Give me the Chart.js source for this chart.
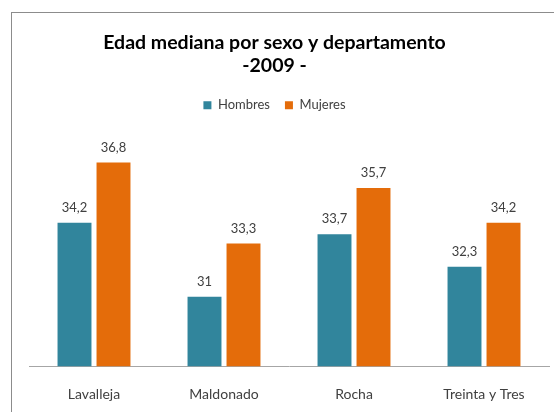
<!DOCTYPE html>
<html>
<head>
<meta charset="utf-8">
<script src="https://cdn.jsdelivr.net/npm/chart.js@4"></script>
<style>
  html, body { margin: 0; padding: 0; background: #fff; overflow: hidden; }
  #wrap { position: relative; width: 554px; height: 412px; }
  canvas { display: block; }
  #frame {
    position: absolute; left: 11px; top: 12px; width: 600px; height: 450px;
    border: 1px solid #8c8c8c; pointer-events: none;
  }
</style>
</head>
<body>
<div id="wrap">
  <canvas id="chart" width="554" height="412"></canvas>
  <div id="frame"></div>
</div>
<script>
// -------------------- Data --------------------
const departamentos = ['Lavalleja', 'Maldonado', 'Rocha', 'Treinta y Tres'];
const hombres = [34.2, 31, 33.7, 32.3];
const mujeres = [36.8, 33.3, 35.7, 34.2];
const titleLines = ['Edad mediana por sexo y departamento', '-2009 -'];

const fontFamily = 'Lato, "Open Sans", sans-serif';

// Excel style value labels above each bar (comma decimal)
const valueLabels = {
  id: 'valueLabels',
  afterDatasetsDraw(chart) {
    const ctx = chart.ctx;
    ctx.save();
    ctx.font = '13px ' + fontFamily;
    ctx.fillStyle = '#404040';
    ctx.textAlign = 'center';
    ctx.textBaseline = 'middle';
    chart.data.datasets.forEach((ds, i) => {
      chart.getDatasetMeta(i).data.forEach((bar, j) => {
        const txt = String(ds.data[j]).replace('.', ',');
        ctx.fillText(txt, bar.x, bar.y - 15);
      });
    });
    ctx.restore();
  }
};

// extra room under the legend
const legendGap = {
  id: 'legendGap',
  beforeInit(chart) {
    const fit = chart.legend.fit;
    chart.legend.fit = function () {
      fit.bind(chart.legend)();
      this.height += 13;
    };
  }
};

const ctx = document.getElementById('chart').getContext('2d');
new Chart(ctx, {
  type: 'bar',
  data: {
    labels: departamentos,
    datasets: [
      { label: 'Hombres', data: hombres, backgroundColor: '#31859C' },
      { label: 'Mujeres', data: mujeres, backgroundColor: '#E46C0A' }
    ]
  },
  options: {
    responsive: false,
    animation: false,
    layout: { padding: { left: 0, right: 5, top: 0, bottom: -11 } },
    datasets: { bar: { categoryPercentage: 0.6, barPercentage: 0.87 } },
    plugins: {
      tooltip: { enabled: false },
      title: {
        display: true,
        text: titleLines,
        color: '#000',
        font: { family: fontFamily, size: 19.5, weight: 'bold', lineHeight: 1.2 },
        padding: { top: 31, bottom: 6 }
      },
      legend: {
        display: true,
        labels: {
          color: '#404040',
          font: { family: fontFamily, size: 13 },
          boxWidth: 8,
          boxHeight: 8,
          padding: 15
        }
      }
    },
    scales: {
      x: {
        grid: { display: false, drawTicks: false },
        border: { display: true, color: '#a6a6a6' },
        ticks: { color: '#404040', font: { family: fontFamily, size: 14 }, padding: 20 }
      },
      y: {
        display: true,
        min: 28,
        max: 38,
        grid: { display: false, drawTicks: false },
        border: { display: false },
        ticks: { display: false },
        afterFit(scale) { scale.width = 29; }
      }
    }
  },
  plugins: [valueLabels, legendGap]
});
</script>
</body>
</html>
